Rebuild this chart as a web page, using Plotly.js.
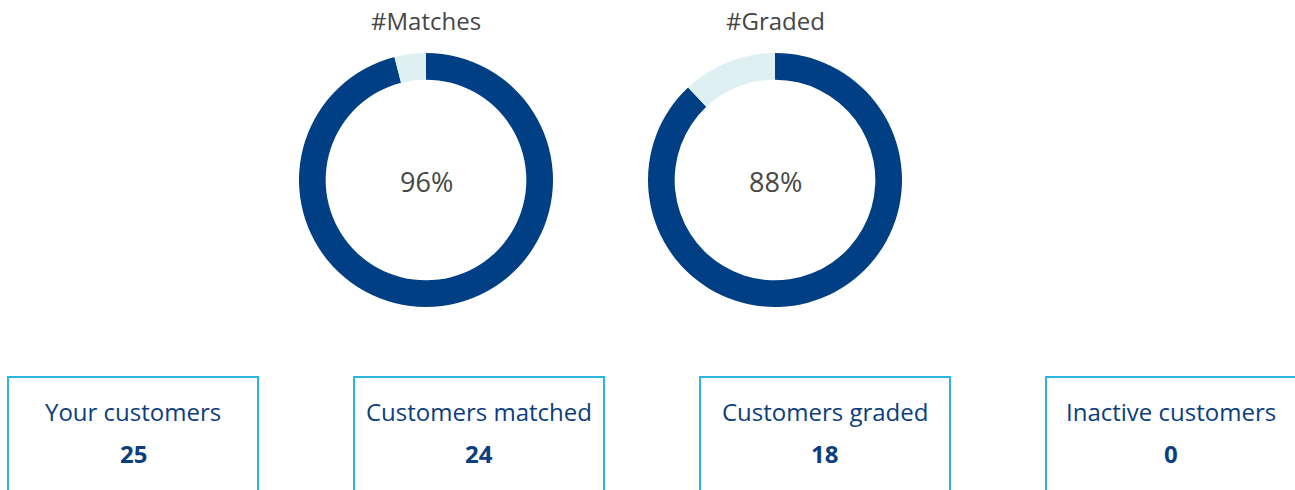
<!DOCTYPE html>
<html>
<head>
<meta charset="utf-8">
<script src="https://cdn.plot.ly/plotly-3.0.1.min.js"></script>
<style>
html,body{margin:0;padding:0;background:#fff;}
#chart{width:1295px;height:490px;}
</style>
</head>
<body>
<div id="chart"></div>
<script>
// Data
const donutTitles = ["#Matches", "#Graded"];
const sliceLabels = ["Done", "Remaining"];
const matchesValues = [96, 4];
const gradedValues = [88, 12];
const centerTexts = ["96%", "88%"];
const kpiLabels = ["Your customers", "Customers matched", "Customers graded", "Inactive customers"];
const kpiValues = [25, 24, 18, 0];

const W = 1295, H = 490;
const DARK = "#003f84", LIGHT = "#dff0f2", TEXT = "#464646", NAVY = "#0b3e7e", BORDER = "#2cb5e2";
const FONT = "'Open Sans', sans-serif";

const centers = [426, 775];
const R = 127, CY = 180;
const seriesValues = [matchesValues, gradedValues];

const traces = seriesValues.map((vals, i) => ({
  type: "pie",
  values: vals,
  labels: sliceLabels,
  hole: 0.79,
  sort: false,
  direction: "clockwise",
  rotation: 0,
  textinfo: "none",
  hoverinfo: "label+value",
  marker: {colors: [DARK, LIGHT], line: {width: 0}},
  showlegend: false,
  domain: {
    x: [(centers[i] - R) / W, (centers[i] + R) / W],
    y: [(H - CY - R) / H, (H - CY + R) / H]
  }
}));

const annotations = [];
donutTitles.forEach((t, i) => {
  annotations.push({text: t, x: centers[i] / W, y: 1 - 20 / H, xref: "paper", yref: "paper",
    showarrow: false, xanchor: "center", yanchor: "middle", font: {family: FONT, size: 24, color: TEXT}});
  annotations.push({text: centerTexts[i], x: centers[i] / W, y: 1 - 181 / H, xref: "paper", yref: "paper",
    showarrow: false, xanchor: "center", yanchor: "middle", font: {family: FONT, size: 27, color: TEXT}});
});

const shapes = [];
const boxLeft = [8, 354, 700, 1046];
const boxW = 250;
kpiLabels.forEach((lab, i) => {
  const x0 = boxLeft[i], x1 = x0 + boxW;
  shapes.push({type: "rect", xref: "paper", yref: "paper",
    x0: x0 / W, x1: x1 / W, y0: (H - 498) / H, y1: (H - 377) / H,
    line: {color: BORDER, width: 2}, fillcolor: "rgba(0,0,0,0)"});
  const cx = (x0 + x1) / 2;
  annotations.push({text: lab, x: cx / W, y: 1 - 411 / H, xref: "paper", yref: "paper",
    showarrow: false, xanchor: "center", yanchor: "middle", font: {family: FONT, size: 24, color: NAVY}});
  annotations.push({text: "<b>" + kpiValues[i] + "</b>", x: cx / W, y: 1 - 453 / H, xref: "paper", yref: "paper",
    showarrow: false, xanchor: "center", yanchor: "middle", font: {family: FONT, size: 24, color: NAVY}});
});

const layout = {
  width: W, height: H,
  margin: {l: 0, r: 0, t: 0, b: 0},
  paper_bgcolor: "#fff", plot_bgcolor: "#fff",
  annotations: annotations,
  shapes: shapes,
  showlegend: false
};

Plotly.newPlot("chart", traces, layout, {displayModeBar: false, staticPlot: true});
</script>
</body>
</html>
